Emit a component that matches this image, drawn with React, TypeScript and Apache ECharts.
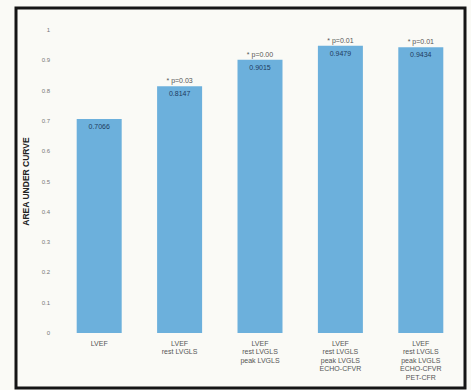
import React, { useEffect, useRef } from "react";
import * as echarts from "echarts";

const categories = [
  "LVEF",
  "LVEF\nrest LVGLS",
  "LVEF\nrest LVGLS\npeak LVGLS",
  "LVEF\nrest LVGLS\npeak LVGLS\nECHO-CFVR",
  "LVEF\nrest LVGLS\npeak LVGLS\nECHO-CFVR\nPET-CFR",
];
const aucValues = [0.7066, 0.8147, 0.9015, 0.9479, 0.9434];
const pLabels = ["", "* p=0.03", "* p=0.00", "* p=0.01", "* p=0.01"];
const yTicks = ["0", "0.1", "0.2", "0.3", "0.4", "0.5", "0.6", "0.7", "0.8", "0.9", "1"];

export default function App() {
  const ref = useRef<HTMLDivElement>(null);
  useEffect(() => {
    document.body.style.margin = "0";
    const chart = echarts.init(ref.current!, null, { renderer: "svg" });
    const font = "Liberation Sans";
    chart.setOption({
      animation: false,
      backgroundColor: "#fafaf6",
      textStyle: { fontFamily: font },
      graphic: [
        {
          type: "rect",
          shape: { x: 16, y: 8, width: 449, height: 380 },
          style: { fill: "none", stroke: "#151515", lineWidth: 3 },
          z: 100,
        },
      ],
      grid: { left: 59, right: 10, top: 30, bottom: 57 },
      xAxis: {
        type: "category",
        data: categories,
        axisLine: { show: false },
        axisTick: { show: false },
        axisLabel: {
          color: "#555",
          fontSize: 7,
          lineHeight: 8.5,
          margin: 6,
          interval: 0,
          fontFamily: font,
        },
      },
      yAxis: {
        type: "value",
        min: 0,
        max: 1,
        interval: 0.1,
        name: "AREA UNDER CURVE",
        nameLocation: "middle",
        nameGap: 27,
        nameTextStyle: {
          fontSize: 8.5,
          fontWeight: "bold",
          color: "#222",
          fontFamily: font,
        },
        axisLine: { show: false },
        axisTick: { show: false },
        splitLine: { show: false },
        axisLabel: {
          color: "#777",
          fontSize: 6,
          margin: 9,
          fontFamily: font,
          formatter: (v: number) => yTicks[Math.round(v * 10)],
        },
      },
      series: [
        {
          type: "bar",
          data: aucValues,
          barWidth: 45,
          barGap: "-100%",
          itemStyle: { color: "rgba(0,0,0,0)" },
          silent: true,
          label: {
            show: true,
            position: "top",
            distance: 2,
            fontSize: 7,
            color: "#555",
            fontFamily: font,
            formatter: (p: any) => pLabels[p.dataIndex],
          },
        },
        {
          type: "bar",
          data: aucValues,
          barWidth: 45,
          itemStyle: { color: "#6cb0dc" },
          label: {
            show: true,
            position: "insideTop",
            distance: 4,
            fontSize: 7,
            color: "#1e3b5e",
            fontFamily: font,
            formatter: (p: any) => p.value.toFixed(4),
          },
        },
      ],
    });
    return () => chart.dispose();
  }, []);
  return (
    <div
      ref={ref}
      style={{ position: "absolute", left: 0, top: 0, width: 471, height: 390 }}
    />
  );
}
